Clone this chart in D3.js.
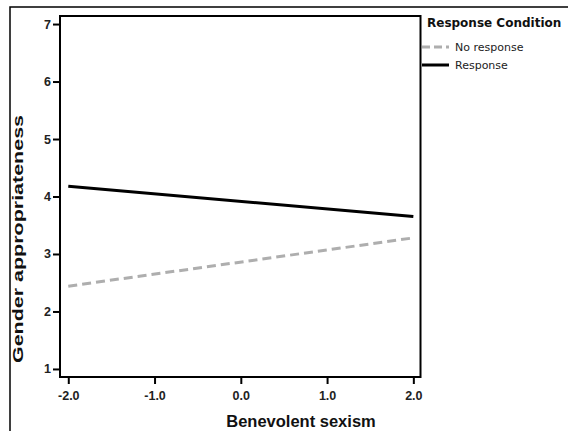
<!DOCTYPE html>
<html>
<head>
<meta charset="utf-8">
<script src="https://cdn.jsdelivr.net/npm/d3@7"></script>
<style>
  html, body { margin: 0; padding: 0; background: #fff; }
  svg { display: block; }
</style>
</head>
<body>
<svg id="chart" width="568" height="431"></svg>
<script>
// Predicted gender appropriateness at low/high benevolent sexism
const xEnds = [-2.0, 2.0];
const noResponse = [2.44, 3.28];
const response = [4.18, 3.65];
const seriesNames = ["No response", "Response"];
const xTicks = [-2, -1, 0, 1, 2];
const yTicks = [1, 2, 3, 4, 5, 6, 7];

const svg = d3.select("#chart");
const plot = { left: 60, right: 420.5, top: 16, bottom: 377 };
const sans = "'Liberation Sans', Arial, sans-serif";

const x = d3.scaleLinear().domain([-2.096, 2.083]).range([plot.left, plot.right]);
const y = d3.scaleLinear().domain([0.86, 7.14]).range([plot.bottom, plot.top]);

// outer page frame (top and left edges)
svg.append("path")
  .attr("d", "M10,431 V7 H568")
  .attr("fill", "none").attr("stroke", "#000").attr("stroke-width", 1.5);

// plot frame
svg.append("rect")
  .attr("x", plot.left).attr("y", plot.top)
  .attr("width", plot.right - plot.left).attr("height", plot.bottom - plot.top)
  .attr("fill", "#fff").attr("stroke", "#000").attr("stroke-width", 2);

// axes
const xAxis = svg.append("g")
  .attr("transform", `translate(0,${plot.bottom})`)
  .call(d3.axisBottom(x).tickValues(xTicks).tickFormat(d => d.toFixed(1)).tickSize(7).tickSizeOuter(0));
const yAxis = svg.append("g")
  .attr("transform", `translate(${plot.left},0)`)
  .call(d3.axisLeft(y).tickValues(yTicks).tickFormat(d => String(d)).tickSize(7).tickSizeOuter(0));

[xAxis, yAxis].forEach(g => {
  g.select(".domain").remove();
  g.selectAll(".tick line").attr("stroke", "#000").attr("stroke-width", 2);
  g.selectAll(".tick text")
    .attr("fill", "#222")
    .style("font-family", sans)
    .style("font-size", "12.5px")
    .style("font-weight", "bold");
});
xAxis.selectAll(".tick text").attr("dy", "0.71em").attr("y", 14);
yAxis.selectAll(".tick text").attr("x", -9);

// axis titles
svg.append("text")
  .attr("x", 301).attr("y", 427)
  .attr("text-anchor", "middle")
  .style("font-family", sans)
  .style("font-size", "16.5px").style("font-weight", "bold")
  .attr("fill", "#111")
  .text("Benevolent sexism");

svg.append("text")
  .attr("transform", "translate(23,239) rotate(-90)")
  .attr("text-anchor", "middle")
  .attr("textLength", 248)
  .attr("lengthAdjust", "spacingAndGlyphs")
  .style("font-family", sans)
  .style("font-size", "14px").style("font-weight", "bold")
  .attr("fill", "#111")
  .text("Gender appropriateness");

// lines
const line = d3.line().x((d, i) => x(xEnds[i])).y(d => y(d));
const styles = [
  { data: noResponse, color: "#aeaeae", dash: "9,5", width: 3 },
  { data: response, color: "#000", dash: null, width: 3 }
];
styles.forEach(s => {
  svg.append("path")
    .datum(s.data)
    .attr("d", line)
    .attr("fill", "none")
    .attr("stroke", s.color)
    .attr("stroke-width", s.width)
    .attr("stroke-dasharray", s.dash);
});

// legend
const legend = svg.append("g");
legend.append("text")
  .attr("x", 427).attr("y", 27)
  .style("font-family", "Tahoma, 'DejaVu Sans', sans-serif")
  .style("font-size", "12px").style("font-weight", "bold")
  .attr("fill", "#111")
  .text("Response Condition");
seriesNames.forEach((name, i) => {
  const yy = 47 + i * 18;
  const s = styles[i];
  legend.append("line")
    .attr("x1", 422).attr("x2", 449).attr("y1", yy).attr("y2", yy)
    .attr("stroke", s.color).attr("stroke-width", 3)
    .attr("stroke-dasharray", s.dash ? "8,4" : null);
  legend.append("text")
    .attr("x", 455).attr("y", yy + 4)
    .style("font-family", "Tahoma, 'DejaVu Sans', sans-serif")
    .style("font-size", "11px")
    .attr("fill", "#222")
    .text(name);
});
</script>
</body>
</html>
